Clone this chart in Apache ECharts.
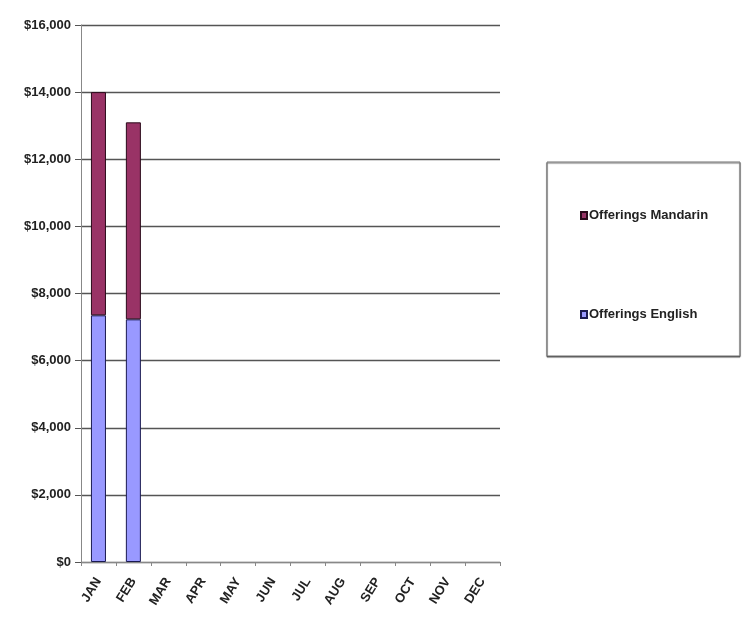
<!DOCTYPE html>
<html><head><meta charset="utf-8">
<script src="https://cdn.jsdelivr.net/npm/echarts@6/dist/echarts.min.js"></script>
<style>html,body{margin:0;padding:0;background:#fff}#c{width:747px;height:623px}</style>
</head><body><div id="c"></div>
<script>
var months = ['JAN','FEB','MAR','APR','MAY','JUN','JUL','AUG','SEP','OCT','NOV','DEC'];
var english = [7350, 7230, null, null, null, null, null, null, null, null, null, null];
var mandarin = [6650, 5870, null, null, null, null, null, null, null, null, null, null];
var yMin = 0, yMax = 16000, yStep = 2000;
var FONT = '"Liberation Sans Narrow","Liberation Sans",Arial,sans-serif';
var chart = echarts.init(document.getElementById('c'));
chart.setOption({
  animation:false,
  backgroundColor:'#fff',
  grid:{left:81,right:247,top:25,bottom:61},
  legend:{
    orient:'vertical', left:575, top:204, itemGap:86,
    itemWidth:6, itemHeight:7, icon:'rect',
    data:['Offerings Mandarin','Offerings English'],
    textStyle:{fontFamily:FONT,fontSize:13,fontWeight:'bold',color:'#222',padding:[0,0,0,-3]}
  },
  graphic:[{type:'rect',shape:{x:547,y:162,width:193,height:194},
    style:{fill:'#fff',stroke:'#777',lineWidth:1,shadowColor:'rgba(0,0,0,0.6)',shadowOffsetY:1,shadowBlur:1},z:-1}],
  xAxis:{type:'category',data:months,
    axisLine:{lineStyle:{color:'#888',width:1}},
    axisTick:{show:true,length:4,lineStyle:{color:'#888'}},
    axisLabel:{rotate:58,fontFamily:FONT,fontSize:13,fontWeight:'bold',color:'#222',margin:17}},
  yAxis:{type:'value',min:yMin,max:yMax,interval:yStep,
    axisLine:{show:true,lineStyle:{color:'#888'}},
    axisTick:{show:true,length:6,lineStyle:{color:'#555'}},
    splitLine:{lineStyle:{color:'#555',width:1.3}},
    axisLabel:{fontFamily:FONT,fontSize:13,fontWeight:'bold',color:'#222',margin:10,
      formatter:function(v){return '$'+v.toLocaleString('en-US');}}},
  series:[
    {name:'Offerings English',type:'bar',stack:'t',data:english,barWidth:'43%',
     itemStyle:{color:'#9999FF',borderColor:'#1a1a50',borderWidth:1}},
    {name:'Offerings Mandarin',type:'bar',stack:'t',data:mandarin,barWidth:'43%',
     itemStyle:{color:'#993366',borderColor:'#2a0a1a',borderWidth:1}}
  ]
});
</script></body></html>
